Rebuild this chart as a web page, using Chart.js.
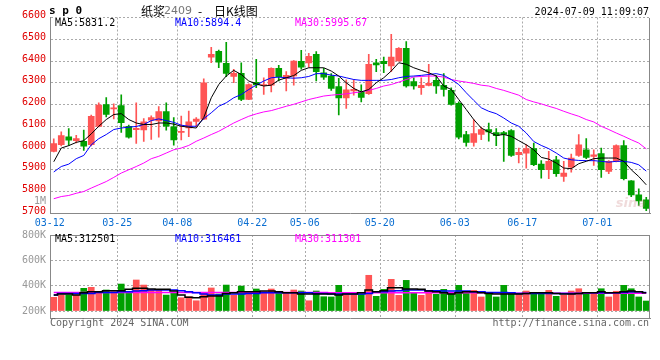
<!DOCTYPE html>
<html>
<head>
<meta charset="utf-8">
<script src="https://cdn.jsdelivr.net/npm/chart.js@4.4.1/dist/chart.umd.min.js"></script>
<style>
  html, body { margin: 0; padding: 0; background: #fff; }
  #wrap { position: relative; width: 660px; height: 360px; }
  #wrap canvas { position: absolute; left: 0; top: 0; }
</style>
</head>
<body>
<div id="wrap">
  <canvas id="price-chart" width="660" height="360"></canvas>
  <canvas id="volume-chart" width="660" height="360"></canvas>
</div>
<script>
// trading days 2024-03-12 .. 2024-07-09
const dates = [
  '03-12','03-13','03-14','03-15','03-18','03-19','03-20','03-21','03-22','03-25',
  '03-26','03-27','03-28','03-29','04-01','04-02','04-03','04-08','04-09','04-10',
  '04-11','04-12','04-15','04-16','04-17','04-18','04-19','04-22','04-23','04-24',
  '04-25','04-26','04-29','04-30','05-06','05-07','05-08','05-09','05-10','05-13',
  '05-14','05-15','05-16','05-17','05-20','05-21','05-22','05-23','05-24','05-27',
  '05-28','05-29','05-30','05-31','06-03','06-04','06-05','06-06','06-07','06-11',
  '06-12','06-13','06-14','06-17','06-18','06-19','06-20','06-21','06-24','06-25',
  '06-26','06-27','06-28','07-01','07-02','07-03','07-04','07-05','07-08','07-09'
];
const tickDates = ['03-12','03-25','04-08','04-22','05-06','05-20','06-03','06-17','07-01'];
const volTicks = [200000, 400000, 600000, 800000];

const opens = [
  5985,6016,6052,6034,6031,6016,6099,6200,6180,6195,
  6100,6084,6083,6128,6125,6167,6098,6072,6093,6122,
  6133,6418,6445,6389,6329,6343,6223,6302,6287,6289,
  6366,6320,6331,6398,6391,6431,6346,6331,6283,6230,
  6262,6260,6250,6392,6398,6377,6400,6458,6305,6277,
  6288,6311,6288,6265,6205,6062,6026,6062,6085,6071,
  6071,6080,5969,5976,5997,5926,5900,5946,5869,5912,
  5966,5992,5962,5974,5892,5939,6011,5849,5785,5762
];
const highs = [
  6042,6075,6089,6058,6083,6151,6208,6232,6203,6245,
  6105,6208,6135,6148,6190,6208,6140,6147,6170,6140,
  6318,6463,6450,6486,6362,6392,6295,6408,6323,6369,
  6380,6351,6402,6449,6435,6443,6366,6342,6320,6313,
  6315,6290,6431,6408,6418,6523,6462,6489,6323,6323,
  6385,6334,6342,6277,6212,6077,6131,6096,6115,6089,
  6077,6085,6000,6016,6023,5942,5985,5962,5939,5972,
  6062,6043,5992,6000,5942,6015,6034,5850,5812,5773
];
const lows = [
  5982,6010,6012,6023,5989,6010,6097,6143,6134,6072,
  6045,6021,6030,6040,6050,6082,6013,6037,6052,6098,
  6130,6392,6369,6328,6300,6218,6222,6277,6246,6258,
  6308,6262,6289,6362,6372,6308,6315,6265,6152,6182,
  6243,6212,6246,6351,6346,6351,6399,6280,6270,6246,
  6286,6251,6238,6197,6042,6008,6008,6038,6031,6011,
  5939,5962,5931,5908,5919,5862,5859,5869,5846,5889,
  5962,5951,5920,5865,5882,5936,5854,5777,5736,5712
];
const closes = [
  6020,6057,6036,6043,6009,6146,6197,6155,6184,6117,
  6050,6090,6120,6140,6167,6101,6037,6077,6120,6133,
  6300,6431,6395,6343,6343,6223,6292,6290,6291,6366,
  6328,6334,6400,6372,6422,6351,6326,6274,6230,6267,
  6270,6233,6385,6382,6388,6418,6458,6285,6285,6288,
  6297,6285,6269,6200,6050,6026,6066,6085,6074,6057,
  6062,5966,5980,5997,5923,5900,5939,5882,5885,5954,
  6015,5957,5969,5900,5939,6011,5859,5785,5757,5723
];

// moving averages as drawn on the chart
const ma5 = [
  5937,6000,6011,6026,6034,6065,6100,6131,6154,6158,
  6131,6115,6108,6108,6115,6115,6110,6100,6096,6092,
  6140,6231,6292,6331,6357,6338,6308,6295,6285,6289,
  6312,6323,6333,6357,6369,6369,6369,6354,6331,6300,
  6274,6258,6269,6300,6323,6354,6392,6385,6369,6357,
  6346,6331,6285,6269,6223,6177,6131,6092,6074,6058,
  6062,6054,6034,6015,5992,5957,5949,5931,5908,5905,
  5928,5939,5951,5954,5954,5954,5939,5900,5869,5831
];
const ma10 = [
  5890,5915,5926,5951,5966,6015,6043,6062,6085,6092,
  6096,6099,6108,6126,6134,6126,6118,6105,6100,6100,
  6135,6162,6192,6208,6231,6246,6269,6289,6308,6323,
  6326,6323,6321,6323,6329,6342,6342,6335,6331,6323,
  6315,6311,6311,6311,6311,6315,6323,6329,6331,6334,
  6338,6342,6334,6315,6292,6254,6219,6185,6169,6158,
  6138,6115,6100,6069,6030,6012,5997,5977,5954,5946,
  5943,5942,5942,5939,5935,5939,5939,5934,5923,5894
];
const ma30 = [
  5767,5777,5782,5792,5800,5816,5831,5846,5865,5885,
  5900,5915,5931,5951,5962,5977,5992,6000,6012,6031,
  6046,6062,6077,6096,6115,6131,6146,6157,6166,6172,
  6182,6192,6201,6212,6223,6231,6239,6243,6246,6249,
  6254,6258,6265,6274,6285,6292,6303,6315,6327,6329,
  6331,6331,6326,6315,6308,6303,6297,6289,6285,6274,
  6265,6254,6243,6223,6212,6203,6192,6182,6169,6157,
  6146,6131,6120,6100,6085,6069,6054,6038,6023,5996
];

const volumes = [
  308000,326000,326000,326000,379000,387000,342000,366000,352000,413000,
  342000,445000,405000,366000,371000,326000,340000,305000,313000,281000,
  342000,382000,334000,405000,326000,397000,342000,374000,352000,374000,
  342000,342000,366000,358000,281000,358000,313000,311000,403000,324000,
  324000,332000,482000,316000,371000,450000,324000,442000,342000,324000,
  363000,332000,371000,342000,403000,342000,363000,311000,332000,311000,
  403000,332000,332000,358000,342000,337000,363000,316000,324000,358000,
  376000,337000,337000,376000,311000,356000,403000,376000,311000,279000
];
const volMa5 = [
  326000,334000,334000,326000,345000,353000,353000,361000,361000,361000,
  371000,379000,379000,374000,371000,371000,358000,326000,308000,305000,
  313000,318000,318000,339000,345000,353000,353000,353000,358000,358000,
  353000,345000,345000,334000,334000,334000,334000,334000,326000,334000,
  334000,345000,366000,353000,361000,384000,384000,374000,374000,371000,
  358000,353000,345000,334000,345000,353000,353000,345000,339000,334000,
  334000,334000,334000,339000,345000,345000,345000,339000,334000,334000,
  339000,345000,345000,353000,345000,345000,353000,358000,353000,345000
];
const volMa10 = [
  326000,339000,339000,339000,339000,339000,347000,347000,347000,353000,
  353000,358000,361000,366000,366000,366000,366000,361000,353000,345000,
  334000,326000,326000,334000,334000,334000,339000,339000,345000,345000,
  345000,345000,345000,345000,345000,339000,339000,334000,334000,334000,
  334000,334000,339000,353000,353000,358000,361000,366000,366000,366000,
  361000,361000,358000,358000,358000,358000,353000,353000,347000,347000,
  347000,345000,339000,339000,339000,339000,339000,339000,339000,339000,
  339000,345000,345000,345000,345000,345000,347000,353000,353000,347000
];
const volMa30 = [
  347000,347000,347000,347000,347000,347000,347000,347000,347000,347000,
  347000,347000,347000,347000,347000,347000,347000,347000,347000,347000,
  347000,347000,347000,347000,347000,347000,347000,347000,347000,347000,
  347000,347000,347000,347000,347000,347000,347000,345000,345000,345000,
  345000,345000,345000,345000,345000,345000,345000,345000,345000,345000,
  345000,345000,345000,345000,345000,345000,345000,345000,345000,345000,
  345000,340000,340000,340000,340000,340000,340000,340000,340000,340000,
  340000,340000,340000,340000,340000,340000,340000,340000,340000,340000
];

const priceMaLabels = ['MA5:5831.2', 'MA10:5894.4', 'MA30:5995.67'];
const volMaLabels = ['MA5:312501', 'MA10:316461', 'MA30:311301'];

const UP = '#ff5555';
const DOWN = '#00a000';
const MA_COLORS = ['#000000', '#0000ff', '#ff00ff'];
const GRID = '#aaaaaa';
const FRAME = '#888888';
const MONO = '"DejaVu Sans Mono", monospace';
const VOL_MIN = 145000;
const VOL_BASE = 200000;

Chart.defaults.font.family = MONO;
Chart.defaults.font.size = 10;
Chart.defaults.animation = false;

const candleColors = closes.map((c, i) => c >= opens[i] ? UP : DOWN);

function gridColor(ctx) {
  const d = dates[ctx.index];
  return (ctx.index > 0 && tickDates.includes(d)) ? GRID : 'rgba(0,0,0,0)';
}

function text(ctx, str, x, y, color, font, align) {
  ctx.fillStyle = color;
  ctx.font = font;
  ctx.textAlign = align || 'left';
  ctx.textBaseline = 'middle';
  ctx.fillText(str, x, y);
}

function drawFrame(chart, withTop) {
  const { ctx, chartArea: a } = chart;
  ctx.save();
  ctx.strokeStyle = FRAME;
  ctx.lineWidth = 1;
  ctx.beginPath();
  const r = Math.round(a.right) - 0.5;
  ctx.moveTo(r, Math.round(a.top));
  ctx.lineTo(r, Math.round(a.bottom));
  if (withTop) {
    const t = Math.round(a.top) + 0.5;
    ctx.moveTo(Math.round(a.left), t);
    ctx.lineTo(Math.round(a.right), t);
  }
  ctx.stroke();
  ctx.restore();
}

const priceDecor = {
  id: 'priceDecor',
  afterDraw(chart) {
    const ctx = chart.ctx;
    ctx.save();
    drawFrame(chart, false);
    text(ctx, 's p 0', 49, 11, '#000', 'bold 11px ' + MONO);
    text(ctx, '纸浆', 141, 11, '#000', '12px "Noto Sans CJK SC"');
    text(ctx, '2409', 164, 11, '#777', '11px "DejaVu Sans"');
    text(ctx, '-', 198, 11, '#000', '12px "Noto Sans CJK SC"');
    text(ctx, '日K线图', 214, 11, '#000', '12px "Noto Sans CJK SC"');
    text(ctx, '2024-07-09 11:09:07', 649, 12, '#000', '10px ' + MONO, 'right');
    const xs = [55, 175, 295];
    priceMaLabels.forEach((s, i) => text(ctx, s, xs[i], 23, MA_COLORS[i], '10px ' + MONO));
    text(ctx, '1M', 46, 201, '#999', '10px ' + MONO, 'right');
    ctx.globalAlpha = 0.3;
    text(ctx, 'sina', 646, 204, '#c88', 'italic bold 13px "DejaVu Sans"', 'right');
    ctx.restore();
  }
};

const volumeDecor = {
  id: 'volumeDecor',
  afterDraw(chart) {
    const ctx = chart.ctx;
    ctx.save();
    drawFrame(chart, true);
    const xs = [55, 175, 295];
    volMaLabels.forEach((s, i) => text(ctx, s, xs[i], 239, MA_COLORS[i], '10px ' + MONO));
    text(ctx, 'Copyright 2024 SINA.COM', 50, 323, '#666', '10px ' + MONO);
    text(ctx, 'http://finance.sina.com.cn', 649, 323, '#666', '10px ' + MONO, 'right');
    ctx.restore();
  }
};

function maLine(data, color, width, stepped) {
  return {
    type: 'line', data: data, borderColor: color, borderWidth: width,
    pointRadius: 0, tension: 0, stepped: stepped || false, order: 0
  };
}

// price panel
new Chart(document.getElementById('price-chart'), {
  type: 'bar',
  data: {
    labels: dates,
    datasets: [
      maLine(ma5, MA_COLORS[0], 1),
      maLine(ma10, MA_COLORS[1], 1),
      maLine(ma30, MA_COLORS[2], 1),
      {
        data: opens.map((o, i) => [o, closes[i]]),
        backgroundColor: candleColors, barThickness: 6, minBarLength: 1,
        grouped: false, order: 1
      },
      {
        data: lows.map((l, i) => [l, highs[i]]),
        backgroundColor: candleColors, barThickness: 1,
        grouped: false, order: 2
      }
    ]
  },
  options: {
    responsive: false,
    animation: false,
    layout: { padding: { top: 17.5, right: 10, bottom: 126.7, left: 0 } },
    plugins: { legend: { display: false }, tooltip: { enabled: false } },
    scales: {
      x: {
        grid: { color: gridColor, drawTicks: false },
        border: { color: FRAME, dash: [2, 2] },
        ticks: {
          autoSkip: false, maxRotation: 0, padding: 4, labelOffset: -4,
          color: '#0a6ed1',
          callback: (v, i) => tickDates.includes(dates[i]) ? dates[i] : ''
        },
        afterFit: s => { s.height = 20; }
      },
      y: {
        min: 5700, max: 6600,
        grid: { color: GRID, drawTicks: false },
        border: { color: FRAME, dash: [2, 2] },
        ticks: { stepSize: 100, color: '#e00000', padding: 4, labelOffset: -2, callback: v => String(v) },
        afterFit: s => { s.width = 50; }
      }
    }
  },
  plugins: [priceDecor]
});

// volume panel
new Chart(document.getElementById('volume-chart'), {
  type: 'bar',
  data: {
    labels: dates,
    datasets: [
      maLine(volMa5, MA_COLORS[0], 1.5, 'middle'),
      maLine(volMa10, MA_COLORS[1], 1.5, 'middle'),
      maLine(volMa30, MA_COLORS[2], 1.5, 'middle'),
      {
        data: volumes, base: VOL_BASE,
        backgroundColor: candleColors, barThickness: 6, order: 1
      }
    ]
  },
  options: {
    responsive: false,
    animation: false,
    layout: { padding: { top: 235, right: 10, bottom: 42, left: 0 } },
    plugins: { legend: { display: false }, tooltip: { enabled: false } },
    scales: {
      x: {
        grid: { color: gridColor, drawTicks: false },
        border: { color: FRAME, dash: [2, 2] },
        ticks: { display: false },
        afterFit: s => { s.height = 0; }
      },
      y: {
        min: VOL_MIN, max: 800000,
        grid: { color: GRID, drawTicks: false },
        border: { color: FRAME, dash: [2, 2] },
        ticks: {
          color: '#999', padding: 4,
          callback: v => (v / 1000) + 'K'
        },
        afterBuildTicks: s => { s.ticks = volTicks.map(v => ({ value: v })); },
        afterFit: s => { s.width = 50; }
      }
    }
  },
  plugins: [volumeDecor]
});
</script>
</body>
</html>
